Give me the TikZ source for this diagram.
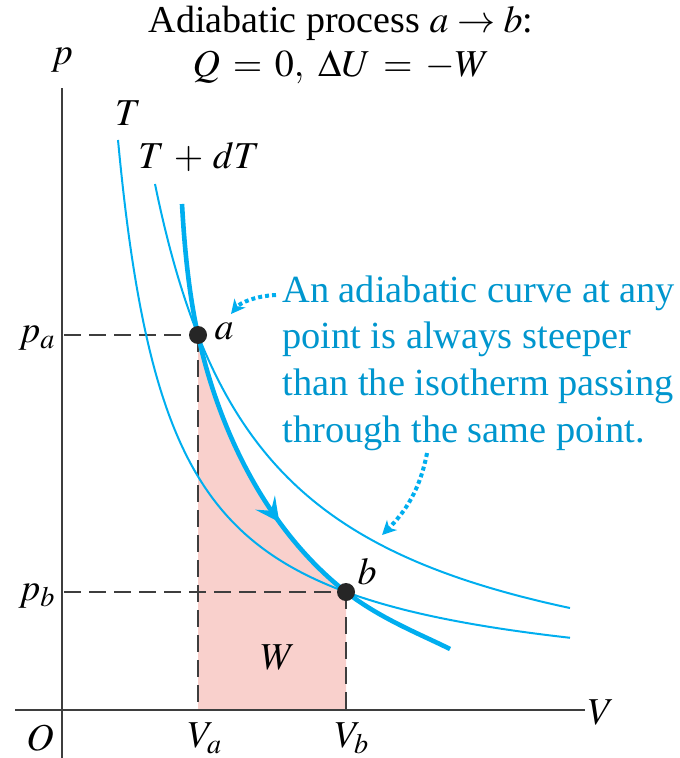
\documentclass[tikz,border=0pt]{standalone}
\usepackage{mathptmx}
\usepackage{fontspec}
\setmainfont{Liberation Serif}
\usetikzlibrary{positioning, arrows.meta, decorations.markings}

\definecolor{curvecyan}{RGB}{0,174,239}
\definecolor{notecyan}{RGB}{0,150,206}
\definecolor{workpink}{RGB}{249,208,204}
\definecolor{axisgray}{RGB}{62,62,62}

\begin{document}
\begin{tikzpicture}[
        x=0.5pt, y=-0.5pt,
        axis/.style={draw=axisgray, line width=1pt},
        guide/.style={draw=axisgray, line width=1pt, dash pattern=on 8.5pt off 4pt},
        isotherm/.style={draw=curvecyan, line width=1pt},
        adiabat/.style={draw=curvecyan, line width=2.3pt},
        pointer/.style={draw=curvecyan, line width=2pt, dash pattern=on 2pt off 1.5pt,
            -{Stealth[length=7pt, width=7pt, inset=2pt]}},
        lbl/.style={font=\fontsize{19}{22}\selectfont, inner sep=0pt},
        statept/.style={circle, fill=black!85, inner sep=0pt, minimum size=9pt},
    ]
    \useasboundingbox (0,0) rectangle (679,758);

    % axes and reference points
    \coordinate (ytop)   at (62,88);
    \coordinate (ybot)   at (62,758);
    \coordinate (xleft)  at (15,710);
    \coordinate (xright) at (585,710);
    \coordinate (a)  at (198,335);
    \coordinate (b)  at (346,592);
    \coordinate (pa) at (64,335);
    \coordinate (pb) at (64,592);
    \coordinate (Va) at (198,710);
    \coordinate (Vb) at (346,710);
    \coordinate (adtop) at (182,204);
    \coordinate (adend) at (450,649);

    % work under the adiabat
    \fill[workpink] (Va) -- (a) .. controls (224,452) and (280,540.5) .. (b) -- (Vb) -- cycle;

    \draw[axis] (ybot) -- (ytop);
    \draw[axis] (xleft) -- (xright);
    \draw[guide] (pa) -- (a);
    \draw[guide] (a) -- (Va);
    \draw[guide] (pb) -- (b);
    \draw[guide] (b) -- (Vb);

    % isotherms T and T + dT
    \draw[isotherm] plot[domain=118:570, samples=300] (\x, {710 - 100*(288.38/(\x-62-4.04)) - 15});
    \draw[isotherm] plot[domain=155:570, samples=300] (\x, {710 - 100*(587.46/(\x-62+16.6)) + 10});

    % adiabat a -> b
    \draw[adiabat, postaction={decorate}, decoration={markings,
            mark=at position 0.61 with {\arrow{Stealth[length=12pt, width=12pt, inset=5pt]}}}]
        (adtop) .. controls (184,240) and (188,290) .. (a)
        .. controls (224,452) and (280,540.5) .. (b)
        .. controls (381,619) and (420,634) .. (adend);

    \node[statept] (pta) at (a) {};
    \node[statept] (ptb) at (b) {};

    % labels
    \node[lbl] (plbl)   at (62,60)   {$p$};
    \node[lbl] (Vlbl)   at (601,712) {$V$};
    \node[lbl] (Olbl)   at (40,738)  {$O$};
    \node[lbl] (palbl)  at (37,338)  {$p_a$};
    \node[lbl] (pblbl)  at (37,596)  {$p_b$};
    \node[lbl] (Valbl)  at (205,738) {$V_a$};
    \node[lbl] (Vblbl)  at (352,738) {$V_b$};
    \node[lbl] (albl)   at (224,331) {$a$};
    \node[lbl] (blbl)   at (367,572) {$b$};
    \node[lbl] (Wlbl)   at (278,657) {$W$};
    \node[lbl] (Tlbl)   at (128,113) {$T$};
    \node[lbl] (TdTlbl) at (199,157) {$T \,+\, dT$};

    \node[lbl, align=center, anchor=base] (title) at (341,77)
        {Adiabatic process $a \rightarrow b$:\\$Q \,=\, 0,\ \Delta U \,=\, -W$};
    \node[lbl, text=notecyan, align=left, anchor=base west,
        font=\fontsize{19.2}{23.3}\selectfont] (note) at (282,442)
        {An adiabatic curve at any\\point is always steeper\\than the isotherm passing\\through the same point.};

    % pointers from the note
    \coordinate (srca) at (276,295);
    \coordinate (tipa) at (231,314);
    \coordinate (srcb) at (427,453);
    \coordinate (tipb) at (382,535);
    \draw[pointer] (srca) .. controls (255,296) and (240,303) .. (tipa);
    \draw[pointer] (srcb) .. controls (420,490) and (405,512) .. (tipb);
\end{tikzpicture}
\end{document}
